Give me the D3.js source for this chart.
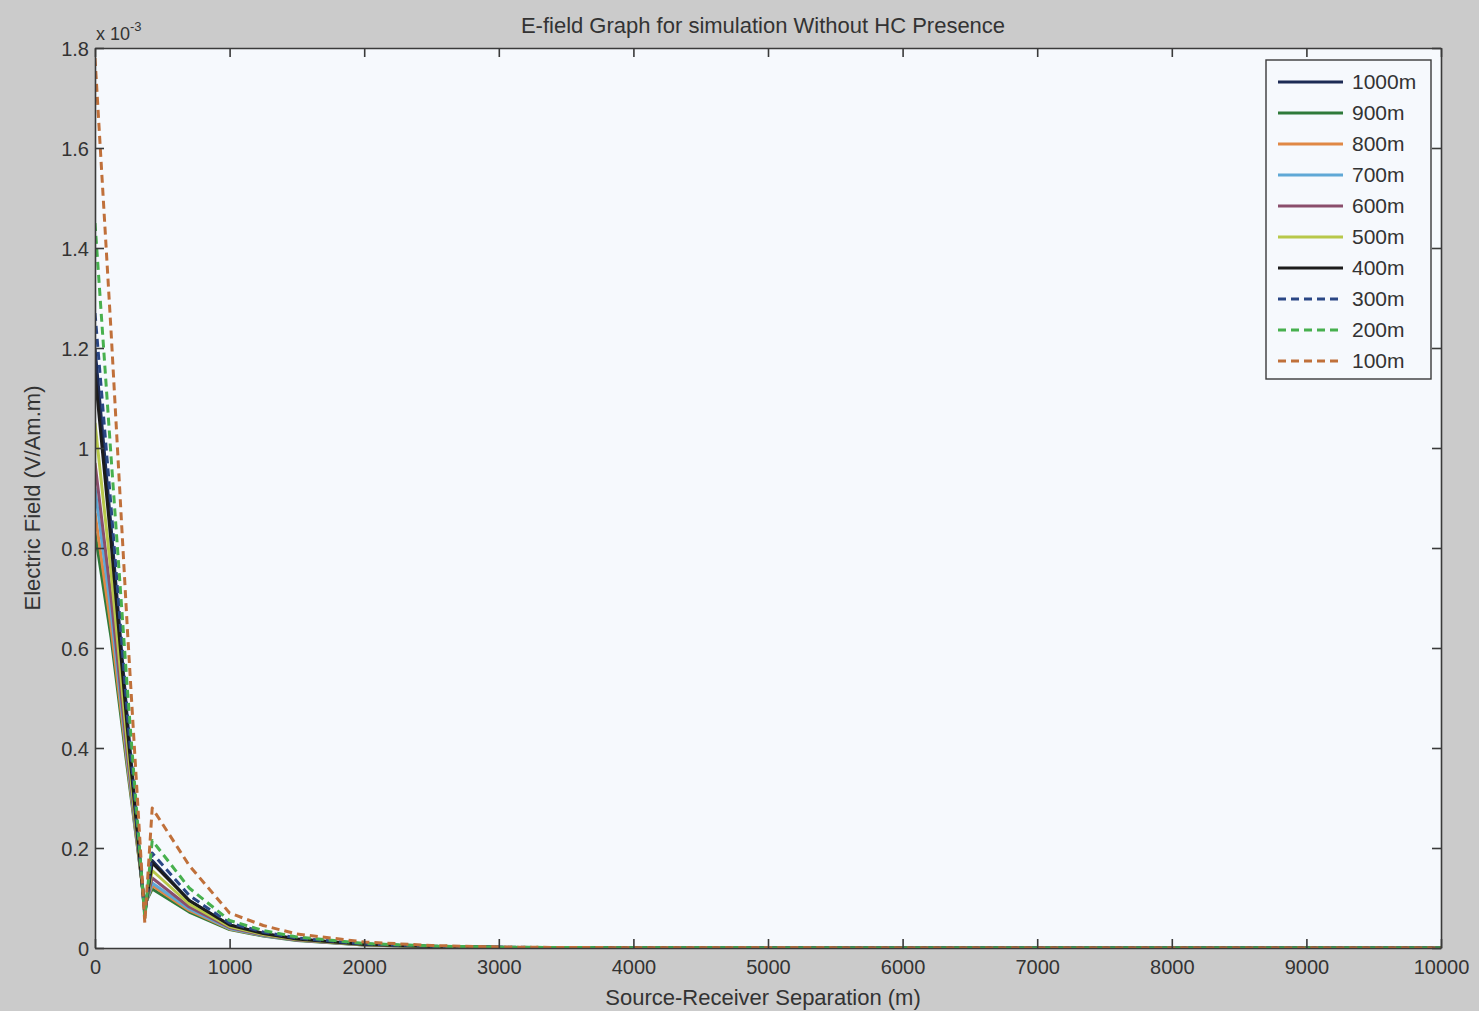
<!DOCTYPE html>
<html>
<head>
<meta charset="utf-8">
<script src="https://cdn.jsdelivr.net/npm/d3@7"></script>
<style>
  html, body { margin: 0; padding: 0; background: #cbcbcb; }
  svg { display: block; }
  text { font-family: "Liberation Sans", Arial, sans-serif; fill: #333; }
</style>
</head>
<body>
<script>
// Source-receiver separation (m) at which the field was sampled
const separation = [0, 120, 240, 370, 425, 700, 1000, 1250, 1500, 2000, 2500, 3000, 3500, 4000, 5000, 6000, 7000, 8000, 9000, 10000];

// Electric field amplitude (x 10^-3 V/Am.m) for each water depth
const depth1000 = [1.20, 0.84, 0.46, 0.070, 0.175, 0.095, 0.046, 0.029, 0.018, 0.007, 0.003, 0.0013, 0.0007, 0.0004, 0.0002, 0.0001, 0.0001, 0, 0, 0];
const depth900  = [0.83, 0.62, 0.36, 0.088, 0.118, 0.072, 0.037, 0.024, 0.015, 0.006, 0.0025, 0.0011, 0.0006, 0.0003, 0.0002, 0.0001, 0, 0, 0, 0];
const depth800  = [0.87, 0.64, 0.37, 0.085, 0.125, 0.075, 0.038, 0.025, 0.016, 0.006, 0.0026, 0.0011, 0.0006, 0.0003, 0.0002, 0.0001, 0, 0, 0, 0];
const depth700  = [0.92, 0.67, 0.38, 0.082, 0.130, 0.078, 0.039, 0.025, 0.016, 0.0062, 0.0027, 0.0012, 0.0006, 0.0003, 0.0002, 0.0001, 0, 0, 0, 0];
const depth600  = [0.97, 0.70, 0.39, 0.080, 0.140, 0.082, 0.041, 0.026, 0.016, 0.0064, 0.0028, 0.0012, 0.0006, 0.0003, 0.0002, 0.0001, 0, 0, 0, 0];
const depth500  = [1.05, 0.75, 0.41, 0.075, 0.155, 0.088, 0.043, 0.027, 0.017, 0.0066, 0.0029, 0.0012, 0.0006, 0.0003, 0.0002, 0.0001, 0, 0, 0, 0];
const depth400  = [1.15, 0.81, 0.44, 0.070, 0.170, 0.095, 0.046, 0.029, 0.018, 0.007, 0.003, 0.0013, 0.0007, 0.0004, 0.0002, 0.0001, 0, 0, 0, 0];
const depth300  = [1.27, 0.88, 0.47, 0.065, 0.190, 0.105, 0.050, 0.032, 0.020, 0.008, 0.0035, 0.0015, 0.0008, 0.0004, 0.0002, 0.0001, 0.0001, 0, 0, 0];
const depth200  = [1.45, 0.98, 0.52, 0.060, 0.215, 0.120, 0.055, 0.035, 0.022, 0.009, 0.004, 0.0017, 0.0009, 0.0005, 0.0002, 0.0001, 0.0001, 0, 0, 0];
const depth100  = [1.78, 1.23, 0.64, 0.050, 0.280, 0.165, 0.070, 0.045, 0.028, 0.012, 0.005, 0.002, 0.001, 0.0006, 0.0003, 0.0002, 0.0001, 0.0001, 0, 0];

const seriesNames = ["1000m", "900m", "800m", "700m", "600m", "500m", "400m", "300m", "200m", "100m"];
const seriesValues = [depth1000, depth900, depth800, depth700, depth600, depth500, depth400, depth300, depth200, depth100];
const seriesColors = ["#1d2b55", "#2f7a3a", "#e08845", "#5fa8d6", "#8a4e6c", "#b8c84a", "#1c1c1c", "#2a4785", "#47b04e", "#c0703a"];
const seriesDashed = [false, false, false, false, false, false, false, true, true, true];

const xTicks = [0, 1000, 2000, 3000, 4000, 5000, 6000, 7000, 8000, 9000, 10000];
const yTicks = [0, 0.2, 0.4, 0.6, 0.8, 1, 1.2, 1.4, 1.6, 1.8];

const W = 1479, H = 1011;
const plot = { left: 95, right: 1441, top: 48, bottom: 948 };

const svg = d3.select("body").append("svg").attr("width", W).attr("height", H);
svg.append("rect").attr("width", W).attr("height", H).attr("fill", "#cbcbcb");

const x = d3.scaleLinear().domain([0, 10000]).range([plot.left, plot.right]);
const y = d3.scaleLinear().domain([0, 1.8]).range([plot.bottom, plot.top]);

// axes area
svg.append("rect")
  .attr("x", plot.left).attr("y", plot.top)
  .attr("width", plot.right - plot.left).attr("height", plot.bottom - plot.top)
  .attr("fill", "#f6f9fd");

svg.append("clipPath").attr("id", "plotClip").append("rect")
  .attr("x", plot.left).attr("y", plot.top)
  .attr("width", plot.right - plot.left).attr("height", plot.bottom - plot.top);

// curves
const line = d3.line().x((d, i) => x(separation[i])).y(d => y(d));
const curves = svg.append("g").attr("clip-path", "url(#plotClip)");
seriesValues.forEach((vals, k) => {
  curves.append("path")
    .datum(vals)
    .attr("d", line)
    .attr("fill", "none")
    .attr("stroke", seriesColors[k])
    .attr("stroke-width", 3)
    .attr("stroke-linejoin", "round")
    .attr("stroke-dasharray", seriesDashed[k] ? "8,5" : null);
});

// axes with inward ticks on all four sides
const tickLen = 9;
const axisColor = "#3a3a3a";
const fmtY = d => d3.format("~g")(d);

const gBottom = svg.append("g").attr("transform", `translate(0,${plot.bottom})`)
  .call(d3.axisBottom(x).tickValues(xTicks).tickSizeInner(-tickLen).tickSizeOuter(0).tickPadding(12).tickFormat(d3.format("d")));
const gTop = svg.append("g").attr("transform", `translate(0,${plot.top})`)
  .call(d3.axisTop(x).tickValues(xTicks).tickSizeInner(-tickLen).tickSizeOuter(0).tickFormat(""));
const gLeft = svg.append("g").attr("transform", `translate(${plot.left},0)`)
  .call(d3.axisLeft(y).tickValues(yTicks).tickSizeInner(-tickLen).tickSizeOuter(0).tickPadding(6).tickFormat(fmtY));
const gRight = svg.append("g").attr("transform", `translate(${plot.right},0)`)
  .call(d3.axisRight(y).tickValues(yTicks).tickSizeInner(-tickLen).tickSizeOuter(0).tickFormat(""));

[gBottom, gTop, gLeft, gRight].forEach(g => {
  g.selectAll(".domain").attr("stroke", axisColor).attr("stroke-width", 1.6);
  g.selectAll(".tick line").attr("stroke", axisColor).attr("stroke-width", 1.6);
  g.selectAll(".tick text").attr("fill", "#333").style("font-size", "20px")
    .style("font-family", "'Liberation Sans', Arial, sans-serif");
});
gBottom.selectAll(".tick text").attr("dy", "0.71em");
gLeft.selectAll(".tick text").attr("dy", "0.35em");

// exponent label
const expo = svg.append("text").attr("x", 96).attr("y", 40).style("font-size", "18px");
expo.append("tspan").text("x 10");
expo.append("tspan").attr("dy", -9).style("font-size", "13px").text("-3");

// title and axis labels
svg.append("text").attr("x", 763).attr("y", 33)
  .attr("text-anchor", "middle").style("font-size", "22px")
  .text("E-field Graph for simulation Without HC Presence");
svg.append("text").attr("x", 763).attr("y", 1005)
  .attr("text-anchor", "middle").style("font-size", "22px")
  .text("Source-Receiver Separation (m)");
svg.append("text")
  .attr("transform", `translate(40,${(plot.top + plot.bottom) / 2}) rotate(-90)`)
  .attr("text-anchor", "middle").style("font-size", "22px")
  .text("Electric Field (V/Am.m)");

// legend
const leg = svg.append("g");
leg.append("rect")
  .attr("x", 1266).attr("y", 60).attr("width", 165).attr("height", 319)
  .attr("fill", "#f6f9fd").attr("stroke", axisColor).attr("stroke-width", 1.4);
seriesNames.forEach((name, k) => {
  const yy = 82 + k * 31;
  leg.append("line")
    .attr("x1", 1278).attr("x2", 1343).attr("y1", yy).attr("y2", yy)
    .attr("stroke", seriesColors[k]).attr("stroke-width", 3)
    .attr("stroke-dasharray", seriesDashed[k] ? "8,5" : null);
  leg.append("text").attr("x", 1352).attr("y", yy).attr("dy", "0.35em")
    .style("font-size", "21px").text(name);
});
</script>
</body>
</html>
